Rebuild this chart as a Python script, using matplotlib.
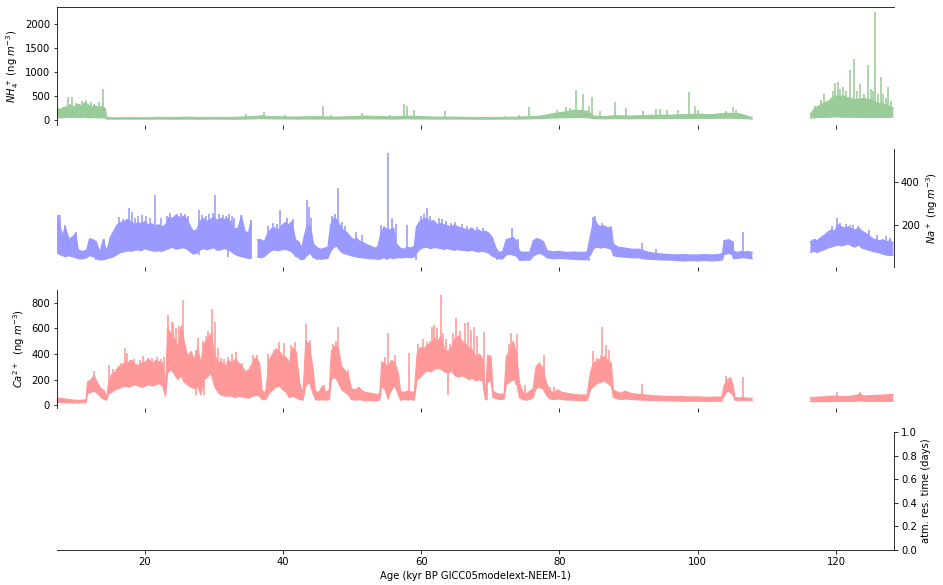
import numpy as np
import matplotlib
matplotlib.use("Agg")
import matplotlib.pyplot as plt

nan = np.nan

# ---------------- NH4+ (ng m^-3) ----------------
nh4_age = [7.3, 7.8, 8.3, 8.8, 9.3, 9.8, 10.3, 10.8, 11.3, 11.8, 12.3, 12.8, 13.3, 13.8, 14.3,
           14.5, 16, 18, 20, 22, 24, 26, 28, 30, 32, 34, 36, 37, 38, 40, 42, 44, 46, 48, 50,
           52, 54, 56, 58, 60, 62, 64, 66, 68, 70, 72, 74, 76, 77, 78, 79, 80, 81, 82, 83, 84,
           85, 86, 87, 88, 90, 92, 94, 96, 98, 100, 102, 104, 106, 107.9, 112,
           116.3, 117, 118, 119, 120, 121, 122, 123, 124, 125, 126, 127, 128.3]
nh4_low = [40, 50, 45, 60, 55, 60, 50, 55, 60, 50, 45, 55, 40, 50, 40,
           20, 18, 20, 18, 20, 18, 20, 18, 20, 18, 20, 25, 30, 25, 22, 20, 22, 20, 20, 22,
           25, 22, 20, 25, 22, 20, 20, 20, 18, 18, 20, 20, 25, 30, 35, 40, 45, 50, 50, 55, 50,
           30, 25, 25, 30, 25, 30, 30, 30, 35, 35, 35, 40, 35, 20, nan,
           40, 50, 55, 60, 65, 60, 60, 55, 55, 50, 55, 55, 60]
nh4_high = [200, 220, 250, 280, 300, 270, 330, 300, 360, 320, 260, 300, 250, 280, 240,
            50, 45, 50, 45, 55, 50, 60, 50, 55, 50, 60, 70, 90, 70, 65, 60, 70, 65, 60, 70,
            80, 70, 65, 80, 70, 60, 60, 55, 50, 50, 55, 60, 70, 80, 100, 130, 150, 170, 200, 200, 180,
            80, 70, 75, 90, 80, 90, 100, 100, 110, 120, 110, 140, 130, 50, nan,
            120, 250, 330, 400, 500, 500, 450, 420, 450, 420, 350, 330, 250]
nh4_spike_age = [7.6, 8.1, 8.6, 8.9, 9.2, 9.5, 10.1, 10.5, 10.9, 11.5, 12.2, 12.6, 13.1, 13.4,
                 13.9, 34.7, 37.2, 40.3, 45.8, 47.0, 51.4, 55.5, 57.5, 58.0, 59.0, 63.5, 72.1,
                 74.2, 75.6, 79.6, 80.9, 81.5, 82.4, 83.4, 84.2, 84.7, 85.9, 88.0, 89.6, 92.1,
                 93.9, 94.5, 95.5, 97.2, 98.7, 99.6, 100.1, 104.1, 105.1, 105.5,
                 117.0, 117.8, 118.3, 118.8, 119.3, 119.6, 119.9, 120.3, 120.6, 121.0, 121.5,
                 122.0, 122.6, 123.0, 123.5, 124.0, 124.7, 125.1, 125.4, 125.7, 126.1, 126.5,
                 126.8, 127.2, 127.6, 128.0]
nh4_spike_val = [250, 280, 300, 480, 330, 470, 360, 340, 400, 410, 380, 330, 300, 370,
                 650, 130, 160, 100, 300, 100, 150, 100, 340, 290, 210, 180, 80,
                 100, 270, 200, 280, 250, 620, 540, 300, 480, 180, 370, 250, 180,
                 230, 230, 200, 200, 590, 300, 200, 180, 270, 200,
                 300, 417, 535, 400, 450, 600, 770, 800, 650, 680, 600,
                 1040, 1265, 600, 750, 550, 1145, 650, 600, 2250, 550, 890,
                 550, 450, 680, 400]

# ---------------- Na+ (ng m^-3) ----------------
na_age = [7.3, 7.7, 8.1, 8.5, 9.0, 9.5, 10.0, 10.4, 11.0, 11.6, 12.0, 12.5, 13.0, 13.5, 14.0,
          14.5, 15.0, 15.5, 16.0, 16.5, 17.0, 17.5, 18.0, 18.5, 19.0, 19.5, 20.0, 20.5, 21.0,
          21.5, 22.0, 22.5, 23.0, 23.5, 24.0, 24.5, 25.0, 25.5, 26.0, 26.5, 27.0, 27.5, 28.0,
          28.5, 29.0, 29.5, 30.0, 30.5, 31.0, 31.5, 32.0, 32.5, 33.0, 33.5, 34.0, 34.5, 35.0,
          35.4, 35.8, 36.3, 36.8, 37.3, 37.8, 38.3, 38.8, 39.3, 39.8, 40.3, 40.8, 41.3, 41.8,
          42.3, 42.7, 43.1, 43.5, 44.0, 44.4, 45.0, 45.5, 46.0, 46.5, 46.9, 47.3, 47.8, 48.2,
          48.7, 49.2, 49.7, 50.2, 50.7, 51.2, 51.7, 52.2, 52.7, 53.2, 53.7, 54.1, 54.6, 55.0,
          55.5, 56.0, 56.4, 57.0, 57.5, 58.0, 58.5, 59.0, 59.3, 59.8, 60.3, 60.8, 61.3, 61.8,
          62.3, 62.8, 63.3, 63.8, 64.3, 64.8, 65.3, 65.8, 66.3, 66.8, 67.3, 67.8, 68.3, 68.8,
          69.3, 69.8, 70.3, 70.8, 71.3, 71.8, 72.3, 72.8, 73.3, 73.8, 74.2, 74.7, 75.2, 75.7,
          76.2, 76.7, 77.2, 77.7, 78.2, 79.0, 80.0, 81.0, 82.0, 83.0, 84.0, 84.5, 85.0, 85.5,
          86.0, 86.5, 87.0, 87.5, 87.8, 88.5, 89.5, 90.5, 91.5, 92.0, 93.0, 94.0, 95.0, 96.0,
          97.0, 98.0, 99.0, 100.0, 101.0, 102.0, 103.0, 103.6, 103.8, 104.5, 105.0, 105.2,
          105.8, 106.3, 106.8, 107.3, 107.9, 112,
          116.3, 116.8, 117.3, 117.8, 118.3, 118.8, 119.3, 119.8, 120.3, 120.8, 121.3, 121.8,
          122.3, 122.8, 123.3, 123.8, 124.3, 124.8, 125.3, 125.8, 126.3, 126.8, 127.3, 127.8, 128.3]
na_low = [70, 60, 55, 50, 55, 50, 45, 40, 40, 45, 55, 50, 40, 35, 35,
          40, 45, 50, 60, 70, 72, 78, 75, 80, 82, 78, 88, 82, 78,
          75, 78, 75, 82, 88, 95, 85, 88, 92, 88, 75, 62, 66, 82,
          88, 82, 88, 92, 80, 82, 88, 82, 75, 62, 55, 50, 46, 42,
          42, nan, 50, 45, 50, 65, 78, 82, 78, 82, 85, 80, 72, 52,
          45, 35, 40, 58, 65, 45, 40, 38, 40, 42, 75, 92, 100, 80,
          66, 62, 56, 52, 48, 46, 44, 42, 40, 40, 38, 40, 45, 40,
          45, 40, 45, 45, 45, 48, 45, 50, 65, 85, 92, 95, 88, 92,
          92, 88, 84, 88, 84, 80, 84, 80, 80, 76, 80, 76, 72, 76,
          72, 66, 52, 45, 40, 40, 58, 62, 58, 52, 35, 33, 35, 33,
          52, 62, 66, 58, 45, 40, 42, 40, 38, 36, 36, 58, 90, 95,
          90, 95, 90, 85, 55, 50, 48, 45, 45, 40, 38, 36, 35, 34,
          32, 30, 32, 30, 32, 30, 32, 35, 60, 65, 60, 40,
          42, 45, 45, 42, 40, nan,
          70, 75, 70, 78, 82, 90, 95, 100, 105, 100, 105, 110,
          100, 95, 105, 90, 85, 80, 75, 72, 68, 62, 58, 55, 58]
na_high = [245, 200, 150, 190, 135, 140, 160, 80, 75, 80, 135, 130, 120, 70, 130,
           75, 140, 170, 200, 210, 215, 225, 215, 200, 210, 205, 215, 200, 205,
           195, 200, 190, 200, 235, 230, 245, 235, 240, 230, 200, 170, 175, 215,
           230, 215, 225, 235, 220, 230, 225, 230, 210, 180, 185, 240, 170, 160,
           220, nan, 130, 130, 120, 160, 180, 185, 175, 195, 210, 200, 215, 130,
           120, 90, 150, 200, 190, 110, 90, 85, 90, 95, 200, 230, 225, 200,
           175, 165, 145, 130, 135, 120, 115, 105, 100, 90, 95, 150, 190, 180,
           175, 185, 110, 90, 85, 95, 90, 100, 190, 215, 225, 230, 215, 220,
           200, 205, 200, 195, 190, 200, 190, 185, 180, 175, 185, 170, 175, 165,
           170, 160, 140, 90, 70, 75, 130, 135, 140, 125, 75, 70, 72, 70,
           125, 135, 130, 120, 80, 72, 75, 70, 72, 70, 72, 150, 230, 200,
           190, 195, 185, 190, 110, 95, 90, 85, 85, 80, 70, 65, 62, 60,
           58, 60, 58, 58, 60, 58, 60, 65, 125, 130, 120, 75,
           70, 75, 72, 75, 70, nan,
           120, 130, 125, 140, 150, 165, 175, 170, 200, 190, 185, 190,
           180, 175, 185, 170, 160, 150, 135, 130, 125, 130, 120, 125, 115]
na_spike_age = [7.4, 7.8, 8.5, 10.0, 14.1, 16.3, 16.9, 17.7, 18.2, 18.6, 19.0, 19.6, 20.2,
                20.8, 21.45, 22.4, 23.2, 23.7, 24.7, 25.2, 25.8, 26.3, 27.8, 28.3, 28.8, 29.3,
                29.9, 30.1, 30.8, 31.3, 31.7, 32.2, 32.6, 32.9, 33.9, 35.4, 37.9, 38.5, 39.2,
                39.5, 40.6, 41.4, 43.4, 43.8, 44.0, 47.1, 47.5, 47.9, 48.5, 49.0, 50.5, 51.5,
                54.2, 54.7, 55.2, 55.7, 56.3, 58.0, 60.0, 60.4, 60.8, 61.2, 61.7, 62.5, 63.0,
                63.6, 64.3, 64.9, 65.9, 66.1, 66.6, 67.5, 68.0, 69.0, 73.2, 74.0, 84.9, 85.2,
                86.2, 91.9, 94.0, 105.1, 106.5, 117.0, 119.5, 120.2, 120.6, 121.5, 122.0,
                122.5, 123.2, 124.8, 126.0, 127.3, 127.8]
na_spike_val = [248, 248, 198, 164, 131, 235, 225, 277, 258, 230, 240, 245, 240,
                230, 340, 230, 240, 255, 250, 255, 250, 240, 269, 245, 240, 250,
                255, 340, 250, 245, 240, 252, 240, 230, 246, 222, 195, 210, 205,
                269, 230, 225, 316, 283, 230, 240, 250, 373, 215, 195, 165, 150,
                198, 183, 537, 233, 205, 198, 240, 250, 277, 240, 215, 230, 225,
                220, 210, 215, 205, 187, 195, 178, 190, 185, 183, 135, 236, 240,
                210, 112, 88, 125, 167, 135, 195, 233, 210, 205, 200,
                200, 195, 175, 150, 146, 140]
na_dip_age = [13.0, 27.9, 32.0, 42.4, 44.9, 54.0, 55.0, 59.3, 70.9, 74.3, 84.2]
na_dip_val = [33, 57, 47, 33, 33, 33, 35, 35, 35, 30, 30]

# ---------------- Ca2+ (ng m^-3) ----------------
ca_age = [7.3, 7.8, 8.3, 9.0, 9.5, 10.0, 10.5, 11.0, 11.5, 11.7, 12.2, 12.7, 13.2, 13.7, 14.2,
          14.5, 14.8, 15.2, 15.7, 16.2, 16.7, 17.2, 17.6, 18.1, 18.6, 19.1, 19.6, 20.1, 20.6,
          21.1, 21.6, 22.1, 22.6, 23.0, 23.3, 23.8, 24.3, 24.8, 25.3, 25.7, 26.2, 26.7, 27.2,
          27.7, 28.1, 28.6, 29.1, 29.6, 30.1, 30.6, 31.1, 31.6, 32.1, 32.6, 33.1, 33.6, 34.1,
          34.6, 35.1, 35.6, 36.1, 36.6, 37.0, 37.5, 38.0, 38.5, 39.0, 39.5, 40.0, 40.5, 40.9,
          41.4, 41.9, 42.4, 42.9, 43.3, 43.8, 44.3, 44.7, 45.2, 45.7, 46.2, 46.7, 47.0, 47.5,
          48.0, 48.5, 49.0, 49.5, 49.9, 50.5, 51.0, 51.5, 52.0, 52.5, 53.0, 53.5, 54.0, 54.3,
          54.8, 55.2, 55.7, 56.2, 56.7, 57.0, 57.5, 58.0, 58.5, 59.0, 59.4, 59.9, 60.4, 60.9,
          61.4, 61.9, 62.4, 62.9, 63.4, 63.9, 64.4, 64.9, 65.4, 65.9, 66.4, 66.9, 67.4, 67.9,
          68.4, 68.9, 69.3, 69.6, 70.1, 70.4, 71.0, 71.5, 72.0, 72.3, 72.8, 73.3, 73.8, 74.2,
          74.7, 75.2, 75.7, 76.2, 76.6, 77.1, 77.6, 78.1, 78.6, 79.2, 79.8, 80.4, 81.0, 82.0,
          83.0, 84.0, 84.5, 85.0, 85.5, 86.0, 86.5, 87.0, 87.5, 87.8, 88.5, 89.0, 89.5, 90.5,
          91.5, 92.5, 93.5, 94.5, 95.5, 96.5, 97.5, 98.5, 99.5, 100.5, 101.5, 102.5, 103.5,
          103.8, 104.3, 104.8, 105.1, 105.4, 106.0, 106.5, 107.2, 107.9, 112,
          116.3, 117.0, 118.0, 119.0, 120.0, 121.0, 122.0, 123.0, 123.5, 124.0, 125.0, 126.0,
          127.0, 128.3]
ca_low = [20, 22, 20, 20, 18, 20, 18, 20, 20, 90, 100, 110, 90, 60, 45,
          40, 90, 100, 120, 130, 140, 150, 140, 150, 160, 150, 140, 150, 160,
          150, 160, 170, 150, 70, 250, 280, 240, 200, 230, 180, 160, 140, 130,
          150, 80, 200, 220, 250, 150, 100, 80, 70, 80, 70, 60, 70, 65,
          60, 55, 70, 80, 70, 45, 45, 90, 120, 140, 150, 120, 100, 60,
          70, 60, 45, 40, 150, 180, 100, 45, 40, 45, 40, 45, 200, 220,
          180, 120, 100, 80, 45, 40, 45, 40, 35, 38, 35, 35, 40, 150,
          120, 50, 120, 150, 80, 40, 45, 42, 45, 40, 200, 220, 250, 270,
          260, 280, 290, 280, 260, 250, 270, 230, 220, 230, 220, 200, 210, 190,
          200, 190, 40, 180, 190, 60, 50, 45, 50, 160, 180, 200, 180, 60,
          45, 40, 45, 60, 130, 140, 130, 80, 50, 45, 50, 45, 42, 40,
          38, 36, 120, 150, 170, 180, 190, 170, 150, 60, 50, 45, 50, 45,
          42, 40, 38, 36, 35, 34, 33, 32, 33, 32, 30, 32, 32,
          70, 110, 100, 80, 40, 38, 40, 38, 36, nan,
          30, 28, 30, 28, 30, 32, 30, 32, 35, 32, 30, 32,
          30, 32]
ca_high = [55, 55, 50, 45, 42, 40, 38, 40, 42, 180, 200, 230, 170, 130, 110,
           60, 180, 240, 260, 300, 310, 340, 330, 350, 320, 310, 330, 340, 360,
           320, 350, 340, 330, 110, 600, 560, 520, 450, 620, 500, 380, 420, 360,
           440, 330, 480, 520, 560, 400, 330, 340, 300, 350, 330, 360, 330, 300,
           260, 280, 330, 370, 330, 110, 100, 350, 400, 440, 420, 380, 370, 330,
           450, 420, 180, 90, 500, 480, 300, 110, 100, 150, 100, 120, 420, 460,
           450, 300, 270, 230, 130, 120, 140, 110, 100, 95, 90, 85, 90, 340,
           320, 300, 350, 330, 250, 110, 100, 110, 105, 100, 400, 450, 440, 470,
           480, 520, 500, 540, 430, 420, 450, 520, 540, 500, 480, 450, 430, 380,
           400, 360, 60, 390, 380, 110, 90, 85, 90, 380, 420, 500, 400, 180,
           100, 90, 110, 130, 300, 330, 290, 180, 110, 100, 120, 100, 95, 85,
           80, 80, 260, 330, 350, 360, 380, 350, 330, 120, 100, 95, 110, 90,
           85, 80, 75, 72, 70, 68, 70, 65, 66, 64, 62, 64, 65,
           150, 200, 210, 160, 60, 58, 60, 55, 55, nan,
           60, 62, 65, 70, 72, 68, 70, 78, 90, 72, 75, 78,
           80, 85]
ca_spike_age = [7.4, 12.7, 14.8, 15.4, 16.0, 16.5, 17.1, 17.4, 17.9, 18.4, 19.3, 19.8, 20.4,
                21.0, 21.7, 22.3, 22.8, 23.3, 23.9, 24.1, 24.5, 25.0, 25.5, 27.4, 27.7, 28.4,
                28.9, 29.2, 29.7, 30.2, 30.6, 31.0, 31.5, 32.0, 32.6, 33.2, 34.1, 35.6, 35.9,
                36.3, 37.9, 38.7, 39.4, 40.2, 41.2, 41.8, 43.3, 43.9, 46.0, 47.3, 47.7, 47.9,
                49.4, 54.8, 55.2, 56.2, 58.3, 59.6, 60.3, 60.8, 61.2, 61.6, 61.9, 62.3, 62.8,
                63.1, 63.6, 64.2, 64.6, 65.1, 65.6, 66.3, 66.8, 67.2, 67.6, 68.0, 69.1, 69.8,
                72.7, 73.0, 73.8, 75.0, 77.7, 78.6, 79.2, 84.7, 84.9, 85.4, 86.0, 86.2, 86.8,
                87.1, 91.9, 104.1, 104.6, 106.5, 120.2, 123.5]
ca_spike_val = [60, 268, 313, 280, 260, 330, 450, 404, 352, 360, 350, 383, 370,
                370, 380, 360, 375, 704, 650, 640, 600, 620, 820, 430, 521, 500,
                540, 580, 748, 650, 450, 370, 360, 380, 400, 417, 330, 391, 370,
                390, 400, 430, 495, 482, 470, 495, 633, 508, 160, 480, 500, 612,
                274, 380, 560, 390, 410, 480, 520, 490, 500, 612, 626, 600, 860,
                560, 520, 480, 560, 679, 580, 638, 652, 590, 612, 540, 570, 390,
                480, 560, 555, 156, 390, 143, 142, 300, 420, 370, 390, 612, 470,
                435, 170, 230, 220, 221, 100, 104]
ca_dip_age = [27.45, 28.6, 32.0, 33.7, 42.0, 63.8, 69.5, 73.7]
ca_dip_val = [78, 78, 65, 80, 65, 80, 39, 156]

x_ticks = [20, 40, 60, 80, 100, 120]
nh4_ticks = [0, 500, 1000, 1500, 2000]
na_ticks = [200, 400]
ca_ticks = [0, 200, 400, 600, 800]
res_ticks = [0.0, 0.2, 0.4, 0.6, 0.8, 1.0]

GREEN = "#99cc99"
BLUE = "#9999ff"
RED = "#ff9999"

plt.rcParams["font.family"] = ["DejaVu Sans"]
plt.rcParams["font.size"] = 10

DPI = 72
fig = plt.figure(figsize=(943 / DPI, 585 / DPI), dpi=DPI)

L, W, H = 57 / 943, 837 / 943, 118 / 585
ax1 = fig.add_axes([L, 1 - 125 / 585, W, H])
ax2 = fig.add_axes([L, 1 - 267 / 585, W, H], sharex=ax1)
ax3 = fig.add_axes([L, 1 - 408 / 585, W, H], sharex=ax1)
ax4 = fig.add_axes([L, 1 - 550 / 585, W, H], sharex=ax1)


def draw(ax, age, low, high, sa, sv, color, da=None, dv=None):
    age = np.asarray(age, float)
    low = np.asarray(low, float)
    high = np.asarray(high, float)
    ax.fill_between(age, low, high, color=color, lw=0, zorder=2)
    ax.plot(age, low, color=color, lw=1.2, zorder=2)
    ax.plot(age, high, color=color, lw=1.2, zorder=2)
    ok = ~np.isnan(low)
    base = np.interp(sa, age[ok], low[ok])
    ax.vlines(sa, base, sv, color=color, lw=1.6, zorder=2)
    if da is not None:
        top = np.interp(da, age[ok], low[ok])
        ax.vlines(da, dv, top, color=color, lw=1.6, zorder=2)


draw(ax1, nh4_age, nh4_low, nh4_high, nh4_spike_age, nh4_spike_val, GREEN)
draw(ax2, na_age, na_low, na_high, na_spike_age, na_spike_val, BLUE, na_dip_age, na_dip_val)
draw(ax3, ca_age, ca_low, ca_high, ca_spike_age, ca_spike_val, RED, ca_dip_age, ca_dip_val)

ax1.set_xlim(7.3, 128.4)
ax1.set_xticks(x_ticks)

# panel 1
ax1.set_ylim(-104, 2354)
ax1.set_yticks(nh4_ticks)
ax1.spines["right"].set_visible(False)
ax1.spines["bottom"].set_visible(False)
ax1.set_ylabel(r"$NH_4^+$ (ng $m^{-3}$)")
ax1.tick_params(axis="x", labelbottom=False)

# panel 2
ax2.set_ylim(1.5, 556)
ax2.set_yticks(na_ticks)
for s in ["left", "top", "bottom"]:
    ax2.spines[s].set_visible(False)
ax2.yaxis.tick_right()
ax2.yaxis.set_label_position("right")
ax2.set_ylabel(r"$Na^+$ (ng $m^{-3}$)")
ax2.tick_params(axis="x", labelbottom=False)

# panel 3
ax3.set_ylim(-21, 899)
ax3.set_yticks(ca_ticks)
for s in ["right", "top", "bottom"]:
    ax3.spines[s].set_visible(False)
ax3.set_ylabel(r"$Ca^{2+}$  (ng $m^{-3}$)")
ax3.tick_params(axis="x", labelbottom=False)

# panel 4
ax4.set_ylim(0, 1)
ax4.set_yticks(res_ticks)
for s in ["left", "top"]:
    ax4.spines[s].set_visible(False)
ax4.yaxis.tick_right()
ax4.yaxis.set_label_position("right")
ax4.set_ylabel("atm. res. time (days)")
ax4.tick_params(axis="x", labelbottom=True)
ax4.set_xlabel("Age (kyr BP GICC05modelext-NEEM-1)")

fig.savefig("out.png", dpi=DPI)
